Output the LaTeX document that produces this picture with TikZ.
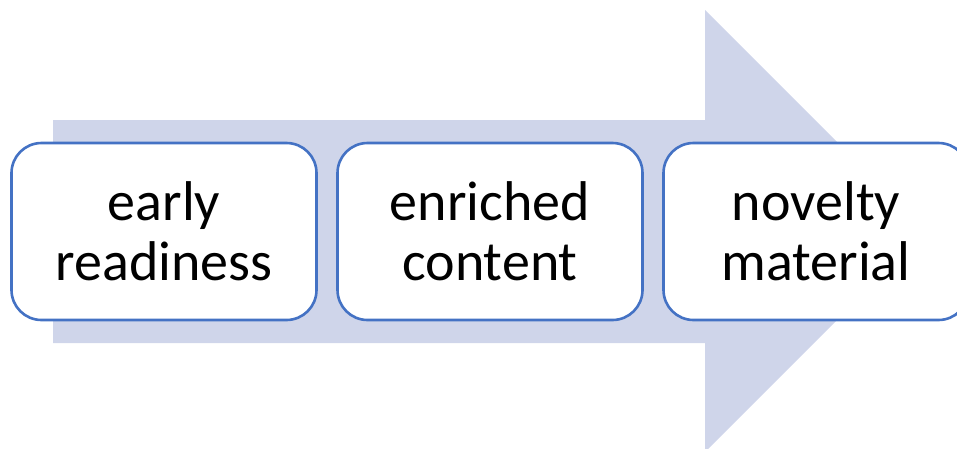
\documentclass[tikz,border=0pt]{standalone}
\usepackage{fontspec}
\setmainfont{Carlito}
\usepackage{xcolor}
\usetikzlibrary{positioning}
\definecolor{shaftfill}{HTML}{CFD5EA}
\definecolor{boxline}{HTML}{4472C4}

\begin{document}
\begin{tikzpicture}[
    x = 1pt, y = -1pt,
    node distance = 18.4pt,
    stagebox/.style = {
        draw=boxline, line width=2.6pt, fill=white, rounded corners=30pt,
        minimum width=305pt, minimum height=177pt, align=center,
        font=\fontsize{56}{60}\selectfont, inner sep=0pt
    }
  ]
    \useasboundingbox (0,0) rectangle (957,448);
    % big arrow behind the boxes
    \fill[shaftfill] (53,120) -- (705,120) -- (705,10) -- (926,231)
        -- (705,452) -- (705,343) -- (53,343) -- cycle;
    \node[stagebox] (early) at (164,231.5) {early\\readiness};
    \node[stagebox, right=of early] (enriched) {enriched\\content};
    \node[stagebox, right=of enriched] (novelty) {novelty\\material};
\end{tikzpicture}
\end{document}
